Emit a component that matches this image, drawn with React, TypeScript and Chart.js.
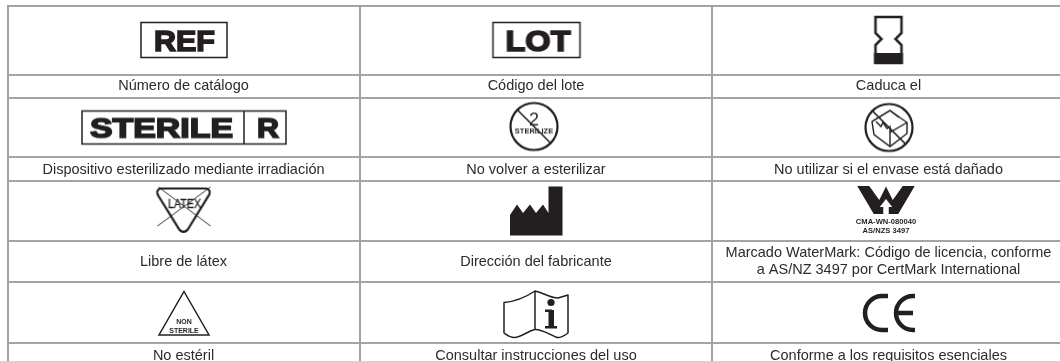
import React, { useEffect, useRef } from "react";
import { Chart, registerables } from "chart.js";

Chart.register(...registerables);

const columnEdges = [8, 360, 712];
const rowEdges = [6, 75, 98, 157, 181, 241, 282, 343];
const columnCenters = [183.5, 536, 888.5];
const labelRowCenters = [86, 169.5, 261.5, 355.5];
const cellLabels = [
  ["Número de catálogo", "Código del lote", "Caduca el"],
  ["Dispositivo esterilizado mediante irradiación", "No volver a esterilizar", "No utilizar si el envase está dañado"],
  ["Libre de látex", "Dirección del fabricante", "Marcado WaterMark: Código de licencia, conforme\na AS/NZ 3497 por CertMark International"],
  ["No estéril", "Consultar instrucciones del uso", "Conforme a los requisitos esenciales"],
];
const iconNames = ["ref", "lot", "hourglass", "sterileR", "noResterilize", "damaged", "latex", "factory", "watermark", "nonSterile", "book", "ce"];
const iconX = [184, 536.5, 888.5, 184, 534, 889, 183.5, 536, 886, 184, 536, 889];
const iconY = [40, 40, 40, 127.5, 126.5, 127.5, 210, 211, 208, 313, 314, 313];

const INK = "#231f20";
const SANS = '"Liberation Sans", Arial, sans-serif';

type Ctx = CanvasRenderingContext2D;

function icon(w: number, h: number, fn: (c: Ctx) => void) {
  const cv = document.createElement("canvas");
  cv.width = w;
  cv.height = h;
  const c = cv.getContext("2d") as Ctx;
  c.translate(w / 2, h / 2);
  c.strokeStyle = INK;
  c.fillStyle = INK;
  c.lineJoin = "miter";
  fn(c);
  return cv;
}

function fit(c: Ctx, text: string, x0: number, x1: number, base: number, font: string, extra = 0) {
  c.save();
  c.font = font;
  c.textAlign = "left";
  c.textBaseline = "alphabetic";
  const m = c.measureText(text).width;
  c.translate(x0, base);
  c.scale((x1 - x0) / m, 1);
  c.fillText(text, 0, 0);
  if (extra) {
    c.lineWidth = extra;
    c.strokeText(text, 0, 0);
  }
  c.restore();
}

function poly(c: Ctx, pts: number[][], close = true) {
  c.beginPath();
  pts.forEach((p, i) => (i ? c.lineTo(p[0], p[1]) : c.moveTo(p[0], p[1])));
  if (close) c.closePath();
}

const painters: Record<string, () => HTMLCanvasElement> = {
  ref: () =>
    icon(92, 40, (c) => {
      c.lineWidth = 1.5;
      c.strokeRect(-43, -17.5, 86, 35);
      fit(c, "REF", -30, 31, 10.5, `bold 29px ${SANS}`, 1.6);
    }),
  lot: () =>
    icon(94, 40, (c) => {
      c.lineWidth = 1.5;
      c.strokeRect(-43.5, -17.5, 87, 35);
      fit(c, "LOT", -31, 34, 10.5, `bold 29px ${SANS}`, 1.6);
    }),
  hourglass: () =>
    icon(36, 54, (c) => {
      c.lineWidth = 2.5;
      poly(c, [[-13, -23], [13, -23], [13, -7], [7, -1], [13, 5], [13, 23], [-13, 23], [-13, 5], [-7, -1], [-13, -7]]);
      c.stroke();
      c.fillRect(-14.5, 13, 29, 11);
    }),
  sterileR: () =>
    icon(210, 38, (c) => {
      c.lineWidth = 1.5;
      c.strokeRect(-102, -16.5, 204, 33);
      c.beginPath();
      c.moveTo(60, -16.5);
      c.lineTo(60, 16.5);
      c.stroke();
      fit(c, "STERILE", -94, 49, 9.5, `bold 27px ${SANS}`, 1.6);
      fit(c, "R", 73, 95, 9.5, `bold 27px ${SANS}`, 1.6);
    }),
  noResterilize: () =>
    icon(54, 54, (c) => {
      c.lineWidth = 2.2;
      c.beginPath();
      c.arc(0, 0, 23.5, 0, Math.PI * 2);
      c.stroke();
      c.font = `18px ${SANS}`;
      c.textAlign = "center";
      c.fillText("2", 0, -1);
      c.font = `bold 7.5px ${SANS}`;
      c.fillText("STERILIZE", 0, 6.5);
      c.lineWidth = 1.6;
      c.beginPath();
      c.moveTo(-16.5, -16.5);
      c.lineTo(16.5, 16.5);
      c.stroke();
    }),
  damaged: () =>
    icon(54, 54, (c) => {
      c.lineWidth = 2.2;
      c.beginPath();
      c.arc(0, 0, 23.5, 0, Math.PI * 2);
      c.stroke();
      c.lineWidth = 1.4;
      poly(c, [[1, -17], [18, -5], [18, 6], [1, 19], [-15, 7], [-17, -6]]);
      c.stroke();
      poly(c, [[-17, -6], [1, -17], [10, -10]], false);
      c.stroke();
      poly(c, [[18, -5], [1, 5], [1, 19]], false);
      c.stroke();
      poly(c, [[-13, -6], [-8, -1], [-6, -5], [-2, 1], [1, -1], [1, 5]], false);
      c.stroke();
      c.lineWidth = 1.7;
      c.beginPath();
      c.moveTo(-16.5, -16.5);
      c.lineTo(16.5, 16.5);
      c.stroke();
    }),
  latex: () =>
    icon(62, 54, (c) => {
      c.lineWidth = 2.2;
      c.lineJoin = "round";
      c.beginPath();
      c.moveTo(-22, -21.5);
      c.lineTo(22, -21.5);
      c.arcTo(29, -21.5, 25, -14, 4);
      c.lineTo(4, 20);
      c.arcTo(0, 28, -4, 20, 5);
      c.lineTo(-25, -14);
      c.arcTo(-29, -21.5, -22, -21.5, 4);
      c.closePath();
      c.stroke();
      c.lineWidth = 0.9;
      c.beginPath();
      c.moveTo(-25, -23);
      c.lineTo(27, 16);
      c.moveTo(27, -23);
      c.lineTo(-26, 16);
      c.stroke();
      fit(c, "LATEX", -15.5, 17.5, -2.5, `12px ${SANS}`, 0.3);
    }),
  factory: () =>
    icon(58, 54, (c) => {
      poly(c, [[-26, 24.5], [-26, 4], [-19, -6.5], [-13, 2], [-6, -6.5], [0, 2], [7, -6.5], [12.5, 2], [12.5, -24.5], [26.5, -24.5], [26.5, 24.5]]);
      c.fill();
    }),
  watermark: () =>
    icon(70, 52, (c) => {
      c.translate(-28.75, -22);
      poly(c, [[0, 0], [12, 0], [22, 14], [28.75, 0.5], [35.5, 14], [45.5, 0], [57.5, 0], [41, 28], [16.5, 28]]);
      c.fill();
      c.fillStyle = "#fff";
      poly(c, [[28.75, 13], [35, 21], [31.5, 21], [31.5, 28], [26, 28], [26, 21], [22.5, 21]]);
      c.fill();
      c.fillStyle = INK;
      c.textAlign = "center";
      c.font = `bold 7.6px ${SANS}`;
      c.fillText("CMA-WN-080040", 28.75, 37.5);
      c.fillText("AS/NZS 3497", 28.75, 46.5);
    }),
  nonSterile: () =>
    icon(60, 52, (c) => {
      c.lineWidth = 1.5;
      poly(c, [[0, -21.5], [25, 22], [-25, 22]]);
      c.stroke();
      c.textAlign = "center";
      c.font = `bold 7px ${SANS}`;
      c.fillText("NON", 0, 11);
      c.fillText("STERILE", 0, 20);
    }),
  book: () =>
    icon(70, 54, (c) => {
      c.lineWidth = 1.5;
      c.lineJoin = "round";
      c.beginPath();
      c.moveTo(-32, -11.5);
      c.bezierCurveTo(-20, -12.5, -10, -17, -1, -23);
      c.bezierCurveTo(8, -21, 14, -16, 22, -16);
      c.lineTo(32, -19);
      c.lineTo(32, 19);
      c.bezierCurveTo(28, 22, 24, 24, 21, 23.5);
      c.bezierCurveTo(14, 21, 6, 15, -1, 15.5);
      c.bezierCurveTo(-8, 17, -16, 24, -22, 23.5);
      c.bezierCurveTo(-26, 23.5, -29, 21, -32, 19);
      c.closePath();
      c.stroke();
      c.beginPath();
      c.moveTo(-1, -23);
      c.lineTo(-1, 15.5);
      c.stroke();
      c.beginPath();
      c.arc(15, -11.5, 3.6, 0, Math.PI * 2);
      c.fill();
      c.fillRect(12.5, -4, 5.5, 18);
      c.fillRect(9, -4.5, 7, 2.5);
      c.fillRect(9, 12, 12, 2.5);
    }),
  ce: () =>
    icon(60, 44, (c) => {
      c.lineWidth = 4.5;
      c.beginPath();
      c.moveTo(-1, -17);
      c.lineTo(-7, -17);
      c.arc(-7, 0, 17, -Math.PI / 2, Math.PI / 2, true);
      c.lineTo(-1, 17);
      c.stroke();
      c.beginPath();
      c.moveTo(26, -17);
      c.lineTo(24, -17);
      c.arc(24, 0, 17, -Math.PI / 2, Math.PI / 2, true);
      c.lineTo(26, 17);
      c.moveTo(7, 0);
      c.lineTo(24, 0);
      c.stroke();
    }),
};

const labelsPlugin = {
  id: "cellLabels",
  afterDatasetsDraw(chart: any) {
    const { ctx, scales } = chart;
    ctx.save();
    ctx.font = `14.5px ${SANS}`;
    ctx.fillStyle = "#2b2b2b";
    ctx.textAlign = "center";
    ctx.textBaseline = "middle";
    cellLabels.forEach((row, r) =>
      row.forEach((text, col) => {
        const lines = text.split("\n");
        const lh = 17.5;
        lines.forEach((ln, i) => {
          const y = labelRowCenters[r] + (i - (lines.length - 1) / 2) * lh;
          ctx.fillText(ln, scales.x.getPixelForValue(columnCenters[col]), scales.y.getPixelForValue(y));
        });
      })
    );
    ctx.restore();
  },
};

export default function App() {
  const ref = useRef<HTMLCanvasElement>(null);
  useEffect(() => {
    document.body.style.margin = "0";
    document.body.style.background = "#fff";
    const chart = new Chart(ref.current as HTMLCanvasElement, {
      type: "scatter",
      data: {
        datasets: [
          {
            data: iconNames.map((_, i) => ({ x: iconX[i], y: iconY[i] })),
            pointStyle: iconNames.map((n) => painters[n]()) as any,
            pointRadius: 1,
            clip: false as any,
          },
        ],
      },
      options: {
        animation: false,
        responsive: false,
        events: [],
        layout: { autoPadding: false, padding: { left: 7, top: 5, right: 0, bottom: 0 } },
        plugins: { legend: { display: false }, tooltip: { enabled: false } },
        scales: {
          x: {
            type: "linear",
            min: 7,
            max: 1060,
            afterBuildTicks: (s: any) => {
              s.ticks = columnEdges.map((value) => ({ value }));
            },
            ticks: { display: false },
            border: { display: false },
            grid: { color: "#a3a3a3", lineWidth: 2, drawTicks: false },
          },
          y: {
            type: "linear",
            reverse: true,
            min: 5,
            max: 361,
            afterBuildTicks: (s: any) => {
              s.ticks = rowEdges.map((value) => ({ value }));
            },
            ticks: { display: false },
            border: { display: false },
            grid: { color: "#a3a3a3", lineWidth: 2, drawTicks: false },
          },
        },
      },
      plugins: [labelsPlugin],
    });
    return () => chart.destroy();
  }, []);
  return <canvas ref={ref} width={1060} height={361} style={{ display: "block" }} />;
}
